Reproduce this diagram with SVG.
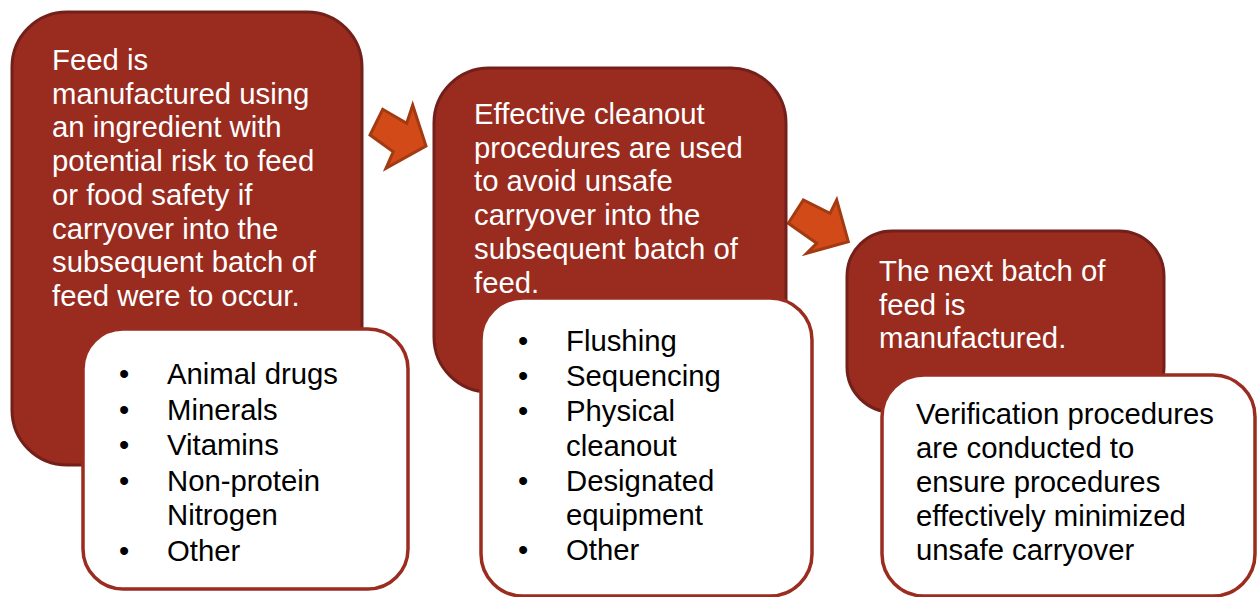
<svg xmlns="http://www.w3.org/2000/svg" width="1257" height="597" viewBox="0 0 1257 597">
<style>
.red{fill:#992B1F;stroke:#74201A;stroke-width:3}
.wht{fill:#FFFFFF;stroke:#9B2C20;stroke-width:3.5}
.arr{fill:#D24A17;stroke:#A23A12;stroke-width:3;stroke-linejoin:miter}
.wt{font-family:"Liberation Sans",Arial,sans-serif;font-size:29.3px;fill:#FFFFFF}
.bt{font-family:"Liberation Sans",Arial,sans-serif;font-size:29.3px;fill:#000000}
</style>
<rect width="1257" height="597" fill="#FFFFFF"/>
<g id="connectors">
<polygon class="arr" points="382.7,109.3 370,135 393.3,151.7 386,168.3 426,146 412.7,105 406.7,123.3"/>
<polygon class="arr" points="803.3,200 788.3,223.3 816.7,243.3 806.7,253.3 848.3,241.7 836.7,200 830,213.3"/>
</g>
<g id="step1">
<rect class="red" x="12" y="12" width="350" height="453" rx="55" ry="55"/>
<text class="wt" x="52" y="70">Feed is</text>
<text class="wt" x="52" y="103.7">manufactured using</text>
<text class="wt" x="52" y="137.4">an ingredient with</text>
<text class="wt" x="52" y="171">potential risk to feed</text>
<text class="wt" x="52" y="204.8">or food safety if</text>
<text class="wt" x="52" y="238.5">carryover into the</text>
<text class="wt" x="52" y="272">subsequent batch of</text>
<text class="wt" x="52" y="306">feed were to occur.</text>
</g>
<g id="list1">
<rect class="wht" x="83" y="329" width="325" height="260" rx="40" ry="40"/>
<g class="bt">
<text x="119" y="384">•</text><text x="167" y="384">Animal drugs</text>
<text x="119" y="419.5">•</text><text x="167" y="419.5">Minerals</text>
<text x="119" y="455">•</text><text x="167" y="455">Vitamins</text>
<text x="119" y="490.5">•</text><text x="167" y="490.5">Non-protein</text>
<text x="167" y="525">Nitrogen</text>
<text x="119" y="560.5">•</text><text x="167" y="560.5">Other</text>
</g>
</g>
<g id="step2">
<rect class="red" x="434" y="68" width="352" height="324" rx="55" ry="55"/>
<text class="wt" x="474" y="124">Effective cleanout</text>
<text class="wt" x="474" y="157.7">procedures are used</text>
<text class="wt" x="474" y="191.4">to avoid unsafe</text>
<text class="wt" x="474" y="225">carryover into the</text>
<text class="wt" x="474" y="258.8">subsequent batch of</text>
<text class="wt" x="474" y="292.5">feed.</text>
</g>
<g id="list2">
<rect class="wht" x="481" y="298" width="331" height="298" rx="42" ry="42"/>
<g class="bt">
<text x="518" y="351">•</text><text x="566" y="351">Flushing</text>
<text x="518" y="386">•</text><text x="566" y="386">Sequencing</text>
<text x="518" y="421">•</text><text x="566" y="421">Physical</text>
<text x="566" y="456">cleanout</text>
<text x="518" y="491">•</text><text x="566" y="491">Designated</text>
<text x="566" y="525">equipment</text>
<text x="518" y="560">•</text><text x="566" y="560">Other</text>
</g>
</g>
<g id="step3">
<rect class="red" x="847" y="231" width="317" height="181" rx="45" ry="45"/>
<text class="wt" x="879" y="281">The next batch of</text>
<text class="wt" x="879" y="314.7">feed is</text>
<text class="wt" x="879" y="348.4">manufactured.</text>
</g>
<g id="verify">
<rect class="wht" x="882" y="375" width="373" height="221" rx="42" ry="42"/>
<g class="bt">
<text x="916" y="424">Verification procedures</text>
<text x="916" y="458">are conducted to</text>
<text x="916" y="492">ensure procedures</text>
<text x="916" y="526">effectively minimized</text>
<text x="916" y="560">unsafe carryover</text>
</g>
</g>
</svg>
